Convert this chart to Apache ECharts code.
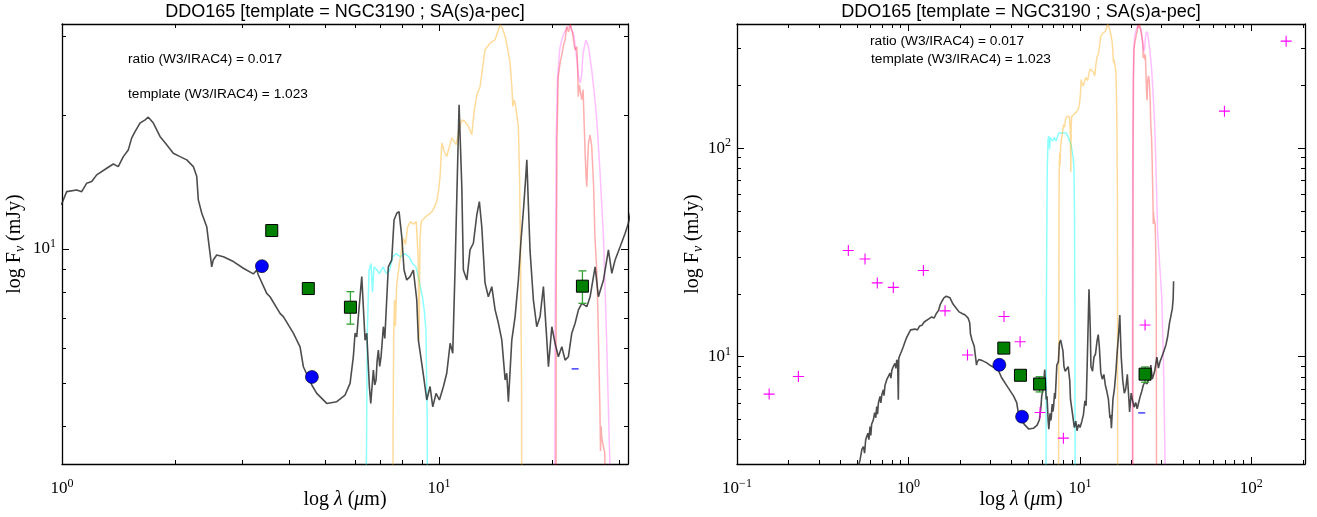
<!DOCTYPE html>
<html><head><meta charset="utf-8">
<script src="https://cdn.jsdelivr.net/npm/echarts@6/dist/echarts.min.js"></script>
<style>html,body{margin:0;padding:0;background:#fff}#c{width:1317px;height:517px}</style>
</head><body><div id="c"></div>
<script>
// ---------- text ----------
const titleText = 'DDO165 [template = NGC3190 ; SA(s)a-pec]';
const noteRatio = 'ratio (W3/IRAC4) = 0.017';
const noteTemplate = 'template (W3/IRAC4) = 1.023';

// ---------- data (wavelength in micron, flux in mJy) ----------
const templateSED = [
 [0.505,2.9],[0.522,3.20],[0.535,3.6],[0.546,3.71],[0.555,3.45],[0.563,4.0],[0.571,4.14],[0.58,4.3],[0.588,4.0],[0.597,4.63],
 [0.603,4.2],[0.61,4.75],[0.624,4.98],[0.635,5.4],[0.645,5.1],[0.653,5.77],[0.66,5.3],[0.668,6.0],[0.683,6.45],[0.69,6.0],[0.70,6.6],[0.714,6.94],[0.72,6.5],[0.73,7.3],
 [0.747,7.76],[0.76,7.6],[0.781,8.35],[0.79,7.9],[0.80,8.6],[0.816,8.98],[0.835,9.3],[0.845,8.8],[0.855,9.67],[0.865,9.4],[0.873,6.22],[0.878,9.8],
 [0.885,10.03],[0.91,10.6],[0.934,11.2],[0.955,11.8],[0.977,12.4],
 [1.00,12.67],[1.029,13.45],[1.094,13.57],[1.128,13.45],[1.163,14.05],[1.199,14.17],[1.236,14.67],[1.314,15.18],[1.368,15.52],[1.410,15.31],
 [1.454,16.12],[1.499,16.69],[1.530,17.74],[1.562,18.35],[1.610,19.17],[1.661,19.50],[1.694,19.77],[1.747,19.17],[1.819,17.89],[1.895,17.13],
 [1.973,16.41],[2.056,16.12],[2.142,15.85],[2.230,15.31],[2.277,14.54],[2.299,12.89],[2.348,12.03],[2.371,12.13],[2.420,11.22],[2.444,10.48],
 [2.495,9.12],[2.519,9.45],[2.572,9.69],[2.679,9.61],[2.848,9.37],[3.027,9.05],[3.217,8.79],[3.285,8.97],[3.317,8.74],[3.491,7.95],
 [3.562,7.81],[3.786,7.17],[3.864,7.05],[4.107,6.47],[4.279,6.03],[4.366,5.44],[4.597,4.95],[4.738,4.74],[5.037,4.50],[5.354,4.54],
 [5.632,4.70],[5.807,4.99],[5.925,5.73],[5.987,6.47],[6.049,6.35],[6.108,7.05],[6.237,8.67],[6.364,6.24],[6.431,6.47],[6.533,4.91],
 [6.589,4.50],[6.695,5.35],[6.75,4.95],[6.806,5.08],[6.85,5.6],[6.902,5.93],[6.96,5.45],[7.017,5.73],[7.116,6.69],[7.18,6.3],[7.234,7.17],
 [7.336,9.12],[7.490,9.45],[7.596,11.62],[7.723,12.03],[7.832,12.13],[7.963,10.66],[8.075,8.97],[8.208,8.52],[8.376,8.67],[8.547,8.97],
 [8.726,7.68],[8.813,6.24],[8.998,5.53],[9.125,5.08],[9.277,4.58],[9.465,4.91],[9.623,4.42],[9.818,4.74],[10.02,4.58],[10.27,4.91],
 [10.48,5.26],[10.70,6.14],[10.87,5.83],[11.03,9.12],[11.14,12.89],[11.30,21.07],[11.49,13.80],[11.60,8.97],[11.85,8.52],[12.08,9.95],
 [12.33,10.30],[12.59,11.92],[12.79,12.78],[12.98,11.22],[13.24,8.39],[13.51,7.81],[13.80,8.23],[14.08,7.30],[14.37,6.81],[14.67,6.24],
 [14.82,5.63],[14.97,5.08],[15.12,5.26],[15.27,4.54],[15.59,6.24],[15.91,7.05],[16.23,8.52],[16.47,10.30],[16.74,12.24],[16.91,13.80],
 [17.09,15.85],[17.26,12.45],[17.43,9.9],[17.79,7.68],[18.16,6.69],[18.53,7.05],[18.91,8.23],[19.31,6.24],[19.50,5.44],[19.91,6.69],
 [20.31,6.14],[20.72,5.73],[21.16,6.03],[21.59,5.63],[22.03,5.73],[22.49,6.47],[22.95,6.81],[23.42,7.30],[23.91,7.55],[24.65,7.42],
 [25.15,7.81],[25.93,9.12],[26.46,7.81],[27.29,8.52],[28.13,9.95],[28.72,8.82],[29.30,9.45],[30.21,10.12],[31.15,10.85],[31.78,11.43],
 [32.5,12.5],[33.3,14.5],[34.0,15.8],[34.6,17.0],[35.0,19.0],[35.2,23.0]
];
// filter transmission curves (relative, peak = 1), drawn scaled to each panel's top
const transIRAC4 = [[6.30,0.0005],[6.38,0.05],[6.45,0.20],[6.52,0.28],[6.60,0.29],[6.66,0.25],[6.72,0.285],[6.85,0.28],[6.95,0.275],[7.10,0.285],
 [7.25,0.275],[7.40,0.28],[7.53,0.30],[7.70,0.305],[7.90,0.30],[8.10,0.305],[8.33,0.30],[8.50,0.29],[8.68,0.285],[8.86,0.265],
 [9.04,0.243],[9.15,0.225],[9.23,0.205],[9.30,0.13],[9.36,0.03],[9.42,0.0005]];
const transW3 = [[7.48,0.0005],[7.55,0.12],[7.58,0.20],[7.62,0.24],[7.66,0.21],[7.72,0.26],[7.85,0.29],[7.95,0.31],[8.05,0.33],[8.15,0.32],
 [8.25,0.35],[8.40,0.36],[8.55,0.355],[8.70,0.36],[8.80,0.30],[8.85,0.195],[8.90,0.33],[8.97,0.36],[9.10,0.365],[9.28,0.371],
 [9.45,0.375],[9.60,0.38],[9.75,0.39],[9.86,0.40],[9.96,0.42],[10.06,0.454],[10.17,0.541],[10.30,0.52],[10.48,0.504],[10.65,0.53],
 [10.81,0.555],[10.95,0.545],[11.10,0.536],[11.30,0.58],[11.49,0.609],[11.70,0.604],[11.95,0.59],[12.21,0.564],[12.40,0.64],[12.59,0.693],
 [12.85,0.724],[13.05,0.80],[13.24,0.875],[13.45,0.89],[13.66,0.907],[13.90,0.915],[14.08,0.922],[14.30,0.96],[14.52,0.996],[14.75,0.975],
 [14.97,0.938],[15.2,0.88],[15.43,0.818],[15.6,0.72],[15.69,0.653],[15.80,0.675],[15.91,0.665],[16.05,0.63],[16.23,0.588],[16.35,0.45],
 [16.45,0.30],[16.55,0.15],[16.65,0.0005]];
const transMIPS24 = [[20.3,0.0005],[20.45,0.25],[20.55,0.55],[20.7,0.762],[20.95,0.82],[21.2,0.86],[21.4,0.90],[21.6,0.922],[21.8,0.987],[22.05,0.96],
 [22.3,1.0],[22.45,0.97],[22.6,0.954],[22.8,0.90],[22.95,0.875],[23.2,0.89],[23.3,0.80],[23.4,0.687],[23.55,0.73],[23.66,0.724],
 [23.9,0.676],[24.1,0.712],[24.25,0.60],[24.4,0.513],[24.55,0.45],[24.65,0.431],[24.8,0.50],[24.9,0.54],[25.15,0.564],[25.4,0.531],
 [25.55,0.48],[25.7,0.431],[25.9,0.333],[26.2,0.28],[26.4,0.22],[26.6,0.16],[26.7,0.138],[26.8,0.11],[26.9,0.125],[27.0,0.118],
 [27.3,0.112],[27.5,0.109],[27.7,0.08],[27.9,0.04],[28.1,0.0005]];
const transW4 = [[20.15,0.0005],[20.3,0.2],[20.45,0.55],[20.6,0.75],[20.9,0.88],[21.3,0.94],[21.8,0.98],[22.3,0.99],[22.8,0.94],[23.2,0.83],
 [23.45,0.76],[23.66,0.737],[23.85,0.76],[24.1,0.86],[24.5,0.92],[24.9,0.89],[25.4,0.79],[25.8,0.70],[26.2,0.609],[26.7,0.47],
 [27.3,0.33],[27.8,0.20],[28.4,0.10],[29.2,0.07],[30.0,0.05],[30.7,0.025],[31.4,0.008],[32.0,0.0005]];

const irac12Points = [[3.39,9.15],[4.60,5.16]];
const photSquares = [[3.60,11.0],[4.50,8.15],[5.82,7.40],[24.0,8.25]];
const photErrLow  = [10.85,8.02,6.78,7.55];
const photErrHigh = [11.15,8.28,8.02,8.93];
const limitDash = [[22.95,5.38]];
const otherPhot = [[0.154,6.62],[0.228,8.04],[0.446,32.3],[0.558,29.4],[0.658,22.6],[0.816,21.5],[1.222,25.9],[1.635,16.6],
 [2.21,10.2],[3.61,15.6],[4.48,11.8],[5.86,5.40],[8.01,4.07],[24.0,14.2],[69.7,150.5],[159.6,326]];

// ---------- axes ----------
const panelX = [[0.99999,31.7],[0.09999,205.6]];
const panelY = [[3.29,32.0],[3.06,394]];
const majorX = [[1,10],[0.1,1,10,100]];
const minorX = [[2,3,4,5,6,7,8,9,20,30],
  [0.2,0.3,0.4,0.5,0.6,0.7,0.8,0.9,2,3,4,5,6,7,8,9,20,30,40,50,60,70,80,90,200]];
const majorY = [[10],[10,100]];
const minorY = [[4,5,6,7,8,9,20,30],[4,5,6,7,8,9,20,30,40,50,60,70,80,90,200,300]];

const serif = '"Liberation Serif", "DejaVu Serif", serif';
const sans = '"Liberation Sans", Arial, sans-serif';
function pow10(v){ const e = Math.round(Math.log10(v)); return '{b|10}{s|' + (e<0?'\u2212':'') + Math.abs(e) + '}'; }
const tickRich = {
  b:{fontFamily:serif, fontSize:17, color:'#000', lineHeight:22},
  s:{fontFamily:serif, fontSize:12, color:'#000', verticalAlign:'top', lineHeight:13}
};
const nameRich = {
  n:{fontFamily:serif, fontSize:20, color:'#000', lineHeight:24},
  i:{fontFamily:serif, fontSize:20, fontStyle:'italic', color:'#000', lineHeight:24},
  sub:{fontFamily:serif, fontSize:14, fontStyle:'italic', color:'#000', verticalAlign:'bottom', lineHeight:14}
};
const grids = [{left:62, top:24, width:566, height:440}, {left:737, top:24, width:568, height:440}];
const lineBlack = {show:true, onZero:false, lineStyle:{color:'#000', width:1.3}};

const xAxes = [], yAxes = [];
[0,1].forEach(p => {
  const bx = {type:'log', logBase:10, gridIndex:p, min:panelX[p][0], max:panelX[p][1], splitLine:{show:false}, minorTick:{show:false}};
  xAxes.push({...bx, position:'bottom', axisLine:lineBlack,
    axisTick:{show:true, inside:true, length:7, customValues:majorX[p], lineStyle:{color:'#000', width:1}},
    axisLabel:{show:true, customValues:majorX[p], formatter:pow10, rich:tickRich, margin:14},
    name:'{n|log }{i|\u03bb}{n| (}{i|\u03bc}{n|m)}', nameLocation:'middle', nameGap:24, nameMoveOverlap:false,
    nameTextStyle:{rich:nameRich}});
  xAxes.push({...bx, position:'top', axisLine:lineBlack,
    axisTick:{show:true, inside:true, length:7, customValues:majorX[p], lineStyle:{color:'#000', width:1}}, axisLabel:{show:false}});
  xAxes.push({...bx, position:'bottom', axisLine:{show:false},
    axisTick:{show:true, inside:true, length:4, customValues:minorX[p], lineStyle:{color:'#000', width:1}}, axisLabel:{show:false}});
  xAxes.push({...bx, position:'top', axisLine:{show:false},
    axisTick:{show:true, inside:true, length:4, customValues:minorX[p], lineStyle:{color:'#000', width:1}}, axisLabel:{show:false}});
  const by = {type:'log', logBase:10, gridIndex:p, min:panelY[p][0], max:panelY[p][1], splitLine:{show:false}, minorTick:{show:false}};
  yAxes.push({...by, position:'left', axisLine:lineBlack,
    axisTick:{show:true, inside:true, length:7, customValues:majorY[p], lineStyle:{color:'#000', width:1}},
    axisLabel:{show:true, customValues:majorY[p], formatter:pow10, rich:tickRich, margin:6},
    name:'{n|log F}{sub|\u03bd}{n| (mJy)}', nameLocation:'middle', nameGap:p===0?35:32, nameMoveOverlap:false,
    nameTextStyle:{rich:nameRich}});
  yAxes.push({...by, position:'right', axisLine:lineBlack,
    axisTick:{show:true, inside:true, length:7, customValues:majorY[p], lineStyle:{color:'#000', width:1}}, axisLabel:{show:false}});
  yAxes.push({...by, position:'left', axisLine:{show:false},
    axisTick:{show:true, inside:true, length:4, customValues:minorY[p], lineStyle:{color:'#000', width:1}}, axisLabel:{show:false}});
  yAxes.push({...by, position:'right', axisLine:{show:false},
    axisTick:{show:true, inside:true, length:4, customValues:minorY[p], lineStyle:{color:'#000', width:1}}, axisLabel:{show:false}});
});

// ---------- series ----------
const series = [];
function filterLine(arr, p, color, opacity){
  const top = panelY[p][1];
  return {type:'line', xAxisIndex:p*4, yAxisIndex:p*4, showSymbol:false, symbol:'none', clip:true, silent:true,
    lineStyle:{color:color, width:1.5, opacity:opacity}, data:arr.map(d => [d[0], d[1]*top]), z:1};
}
const crossPath = 'path://M0,5L10,5M5,0L5,10';
[0,1].forEach(p => {
  const ax = {xAxisIndex:p*4, yAxisIndex:p*4};
  series.push(filterLine(transIRAC4, p, '#00ffff', 0.45));
  series.push(filterLine(transW3, p, '#ffa500', 0.4));
  series.push(filterLine(transW4, p, '#ff00ff', 0.25));
  series.push(filterLine(transMIPS24, p, '#ff0000', 0.32));
  series.push({type:'line', ...ax, showSymbol:false, symbol:'none', clip:true, silent:true, z:2,
    lineStyle:{color:'#262626', width:1.6, opacity:0.82}, data:templateSED});
  if (p === 1) {
    series.push({type:'scatter', ...ax, symbol:crossPath, symbolSize:11, silent:true, z:3,
      itemStyle:{color:'rgba(0,0,0,0)', borderColor:'#ff00ff', borderWidth:1.1, opacity:1}, data:otherPhot});
  }
  series.push({type:'custom', ...ax, silent:true, z:4, clip:false,
    encode:{x:0, y:[1,2]},
    data:photSquares.map((d,i) => [d[0], photErrLow[i], photErrHigh[i]]),
    renderItem:(params, api) => {
      const a = api.coord([api.value(0), api.value(1)]);
      const b = api.coord([api.value(0), api.value(2)]);
      const st = {stroke:'#33a033', lineWidth:1.3};
      return {type:'group', children:[
        {type:'line', shape:{x1:a[0], y1:a[1], x2:b[0], y2:b[1]}, style:st},
        {type:'line', shape:{x1:a[0]-4, y1:a[1], x2:a[0]+4, y2:a[1]}, style:st},
        {type:'line', shape:{x1:b[0]-4, y1:b[1], x2:b[0]+4, y2:b[1]}, style:st}
      ]};
    }});
  series.push({type:'scatter', ...ax, symbol:'rect', symbolSize:12, silent:true, z:5,
    itemStyle:{color:'#008000', borderColor:'#000', borderWidth:1, opacity:1}, data:photSquares});
  series.push({type:'scatter', ...ax, symbol:'circle', symbolSize:13, silent:true, z:5,
    itemStyle:{color:'#0000ff', borderColor:'#000', borderWidth:0.6, opacity:1}, data:irac12Points});
  series.push({type:'scatter', ...ax, symbol:'rect', symbolSize:[7,1.4], silent:true, z:5,
    itemStyle:{color:'#3333ff', opacity:1}, data:limitDash});
});

// ---------- titles & notes ----------
const graphic = [];
grids.forEach((g,p) => {
  graphic.push({type:'text', x:g.left + g.width/2, y:12, style:{text:titleText, font:'18px ' + sans, fill:'#000', textAlign:'center', textVerticalAlign:'middle'}});
});
const noteFont = '13.7px ' + sans;
graphic.push({type:'text', x:128, y:59, style:{text:noteRatio, font:noteFont, fill:'#000', textVerticalAlign:'middle'}});
graphic.push({type:'text', x:128, y:94, style:{text:noteTemplate, font:noteFont, fill:'#000', textVerticalAlign:'middle'}});
graphic.push({type:'text', x:870, y:41, style:{text:noteRatio, font:noteFont, fill:'#000', textVerticalAlign:'middle'}});
graphic.push({type:'text', x:871, y:59, style:{text:noteTemplate, font:noteFont, fill:'#000', textVerticalAlign:'middle'}});

const chart = echarts.init(document.getElementById('c'), null, {renderer:'canvas', width:1317, height:517});
chart.setOption({
  animation:false,
  backgroundColor:'#fff',
  grid:grids.map(g => ({...g, containLabel:false, outerBoundsMode:'none'})),
  xAxis:xAxes, yAxis:yAxes, series:series, graphic:graphic
});
</script></body></html>
